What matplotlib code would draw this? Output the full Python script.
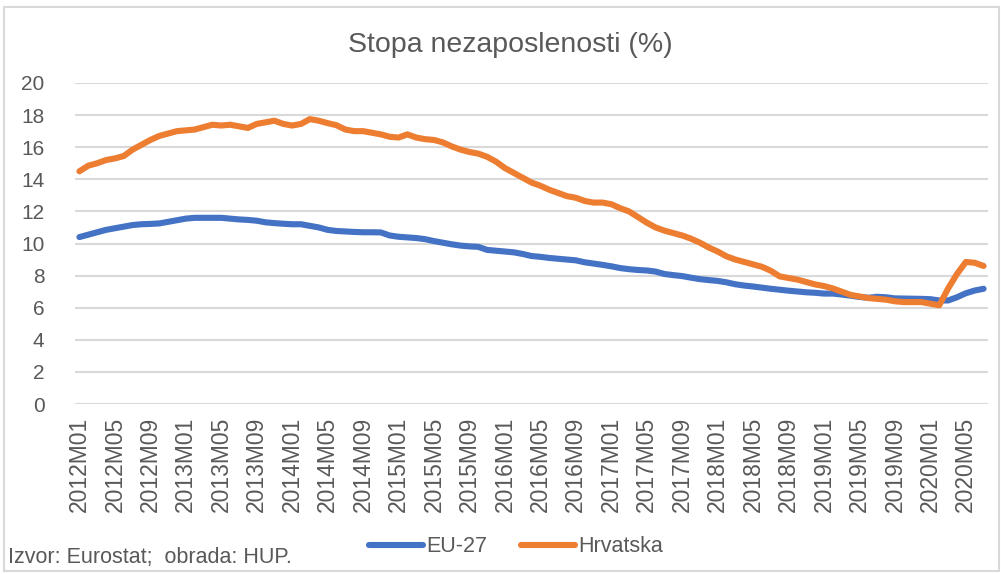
import matplotlib
matplotlib.use("Agg")
import matplotlib.pyplot as plt
from matplotlib.patches import Rectangle

plt.rcParams['font.family'] = ['Liberation Sans', 'DejaVu Sans']

start_year = 2012
n_months = 103
labels = [f"{start_year + i // 12}M{i % 12 + 1:02d}" for i in range(n_months)]

eu27 = [
    10.4, 10.55, 10.7, 10.85, 10.95, 11.05, 11.15, 11.2, 11.22, 11.25,
    11.35, 11.45, 11.55, 11.6, 11.6, 11.6, 11.6, 11.55, 11.5, 11.47,
    11.42, 11.32, 11.27, 11.23, 11.2, 11.2, 11.1, 11.0, 10.85, 10.78,
    10.75, 10.72, 10.7, 10.7, 10.69, 10.5, 10.42, 10.38, 10.34, 10.27,
    10.15, 10.05, 9.95, 9.87, 9.82, 9.79, 9.6, 9.55, 9.5, 9.45,
    9.35, 9.22, 9.17, 9.1, 9.05, 9.0, 8.95, 8.83, 8.75, 8.67,
    8.58, 8.47, 8.4, 8.35, 8.32, 8.25, 8.1, 8.03, 7.97, 7.87,
    7.78, 7.72, 7.67, 7.58, 7.46, 7.38, 7.32, 7.25, 7.18, 7.12,
    7.06, 7.01, 6.96, 6.93, 6.88, 6.88, 6.82, 6.75, 6.67, 6.62,
    6.68, 6.65, 6.58, 6.57, 6.56, 6.55, 6.53, 6.45, 6.45, 6.65,
    6.9, 7.07, 7.18]

hrvatska = [
    14.5, 14.85, 15.0, 15.2, 15.3, 15.45, 15.85, 16.15, 16.45, 16.7,
    16.85, 17.0, 17.05, 17.1, 17.25, 17.4, 17.35, 17.4, 17.3, 17.2,
    17.45, 17.55, 17.65, 17.45, 17.35, 17.45, 17.75, 17.65, 17.5, 17.37,
    17.1, 17.0, 17.0, 16.9, 16.8, 16.65, 16.6, 16.8, 16.6, 16.5,
    16.45, 16.3, 16.05, 15.85, 15.7, 15.6, 15.4, 15.1, 14.7, 14.4,
    14.1, 13.8, 13.6, 13.35, 13.15, 12.95, 12.85, 12.65, 12.55, 12.55,
    12.45, 12.2, 12.0, 11.65, 11.3, 11.0, 10.8, 10.65, 10.5, 10.3,
    10.05, 9.75, 9.5, 9.2, 9.0, 8.85, 8.7, 8.55, 8.3, 7.95,
    7.85, 7.75, 7.6, 7.45, 7.35, 7.2, 7.0, 6.8, 6.7, 6.6,
    6.55, 6.5, 6.4, 6.35, 6.35, 6.35, 6.25, 6.15, 7.2, 8.1,
    8.85, 8.8, 8.6]

series_names = ["EU-27", "Hrvatska"]
colors = ["#4472C4", "#ED7D31"]
title = "Stopa nezaposlenosti (%)"
source = "Izvor: Eurostat;  obrada: HUP."
yticks = list(range(0, 21, 2))

W, H = 1003, 574
fig = plt.figure(figsize=(W / 100, H / 100), dpi=100)
fig.patches.append(Rectangle((4 / W, 3 / H), (W - 8) / W, (H - 10) / H,
                             transform=fig.transFigure, fill=False,
                             edgecolor="#D9D9D9", linewidth=1.5))

ax = fig.add_axes([75 / W, (H - 404) / H, (988 - 75) / W, (404 - 83) / H])
x = list(range(n_months))
ax.plot(x, eu27, color=colors[0], lw=4.4, label=series_names[0], solid_capstyle='round', zorder=3)
ax.plot(x, hrvatska, color=colors[1], lw=4.4, label=series_names[1], solid_capstyle='round', zorder=3)

ax.set_xlim(-0.5, n_months - 0.5)
ax.set_ylim(0, 20)
ax.set_yticks(yticks)
ax.set_yticklabels([str(v) for v in yticks], fontsize=15, color="#595959")
ax.grid(axis='y', color="#D9D9D9", lw=1.5, zorder=0)
ax.set_axisbelow(True)
for s in ax.spines.values():
    s.set_visible(False)
ax.tick_params(axis='y', length=0, pad=22)
ax.tick_params(axis='x', length=0, pad=9)
tick_pos = list(range(0, n_months, 4))
ax.set_xticks(tick_pos)
ax.set_xticklabels([labels[i] for i in tick_pos], rotation=90, fontsize=16.5, color="#595959")

fig.text(510 / W, (H - 45) / H, title, ha='center', va='center', fontsize=20.5, color="#595959")
fig.text(8 / W, (H - 558) / H, source, ha='left', va='center', fontsize=15.5, color="#595959")

fig.legend(loc='center', bbox_to_anchor=(516 / W, (H - 547) / H), ncol=2, frameon=False,
           fontsize=15.5, handlelength=2.5, handletextpad=0.15, columnspacing=1.6,
           labelcolor="#595959")

fig.savefig("out.png", dpi=100)
